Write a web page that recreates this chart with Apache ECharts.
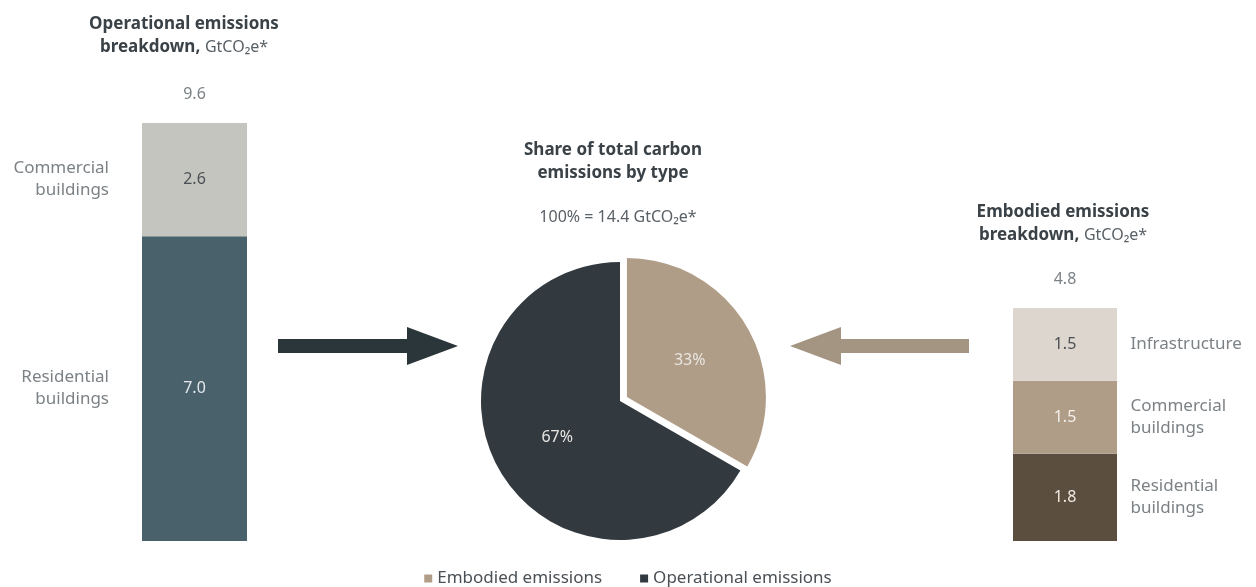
<!DOCTYPE html>
<html>
<head>
<meta charset="utf-8">
<script src="https://cdn.jsdelivr.net/npm/echarts@6/dist/echarts.min.js"></script>
<style>
html,body{margin:0;padding:0;background:#fff;}
#chart{width:1256px;height:587px;}
</style>
</head>
<body>
<div id="chart"></div>
<script>
// ---- Data ----
const opCategories = ['Residential\nbuildings', 'Commercial\nbuildings'];
const opValues = [7.0, 2.6];
const emCategories = ['Residential\nbuildings', 'Commercial\nbuildings', 'Infrastructure'];
const emValues = [1.8, 1.5, 1.5];
const shareNames = ['Embodied emissions', 'Operational emissions'];
const shareValues = [4.8, 9.6];
const totalLabel = '14.4';

// ---- Styles ----
const FONT = '"Noto Sans", "Open Sans", sans-serif';
const opColors = ['#48616a', '#c5c5bf'];
const opLabelColors = ['#e4e8ea', '#4b5055'];
const emColors = ['#5c4e3e', '#b09d87', '#ddd6cf'];
const emLabelColors = ['#efe9e2', '#f4efe9', '#4b5055'];
const shareColors = ['#b09d87', '#32393f'];
const textCol = '#5a6166';
const titleCol = '#3a4247';
const LBL = 17;

function sum(a){return a.reduce((s,v)=>s+v,0);}
function mids(a){let c=0;return a.map(v=>{const m=c+v/2;c+=v;return m;});}

const opTotal = sum(opValues), emTotal = sum(emValues);

const series = [];
opValues.forEach((v,i)=>{
  series.push({
    type:'bar', xAxisIndex:0, yAxisIndex:0, stack:'op', barWidth:'100%',
    data:[v], itemStyle:{color:opColors[i]}, silent:true,
    label:{show:true, position:'inside', color:opLabelColors[i], fontFamily:FONT, fontSize:16,
      formatter:p=>p.value.toFixed(1)}
  });
});
emValues.forEach((v,i)=>{
  series.push({
    type:'bar', xAxisIndex:1, yAxisIndex:1, stack:'em', barWidth:'100%',
    data:[v], itemStyle:{color:emColors[i]}, silent:true,
    label:{show:true, position:'inside', color:emLabelColors[i], fontFamily:FONT, fontSize:16,
      formatter:p=>p.value.toFixed(1)}
  });
});
// category name labels (left of operational bar)
series.push({
  type:'scatter', xAxisIndex:0, yAxisIndex:0, symbolSize:1, silent:true,
  itemStyle:{color:'transparent'},
  data: mids(opValues).map((m,i)=>({value:[0,m], name:opCategories[i]})),
  label:{show:true, position:'left', distance:85, formatter:p=>p.name, color:textCol,
    fontFamily:FONT, fontSize:LBL, lineHeight:22, align:'right'}
});
// totals
series.push({
  type:'scatter', xAxisIndex:0, yAxisIndex:0, symbolSize:1, silent:true,
  itemStyle:{color:'transparent'},
  data:[[0,opTotal]],
  label:{show:true, position:'top', distance:20, formatter:()=>opTotal.toFixed(1), color:textCol,
    fontFamily:FONT, fontSize:16}
});
series.push({
  type:'scatter', xAxisIndex:1, yAxisIndex:1, symbolSize:1, silent:true,
  itemStyle:{color:'transparent'},
  data: mids(emValues).map((m,i)=>({value:[0,m], name:emCategories[i]})),
  label:{show:true, position:'right', distance:65, formatter:p=>p.name, color:textCol,
    fontFamily:FONT, fontSize:LBL, lineHeight:22, align:'left'}
});
series.push({
  type:'scatter', xAxisIndex:1, yAxisIndex:1, symbolSize:1, silent:true,
  itemStyle:{color:'transparent'},
  data:[[0,emTotal]],
  label:{show:true, position:'top', distance:20, formatter:()=>emTotal.toFixed(1), color:textCol,
    fontFamily:FONT, fontSize:16}
});
// pie
series.push({
  type:'pie', center:[620,401], radius:139, startAngle:90, clockwise:true,
  selectedMode:'single', selectedOffset:8, silent:true,
  data: shareNames.map((n,i)=>({name:n, value:shareValues[i], selected:i===0,
    itemStyle:{color:shareColors[i]}})),
  label:{show:true, position:'inside', color:'#e8e6e2', fontFamily:FONT, fontSize:16,
    formatter:p=>Math.round(p.percent)+'%'},
  labelLine:{show:false},
  emphasis:{disabled:true}
});

const titleRich = {
  b:{fontFamily:FONT, fontSize:17, fontWeight:'bold', color:titleCol, lineHeight:23},
  n:{fontFamily:FONT, fontSize:16, fontWeight:'normal', color:'#5a6166', lineHeight:23}
};

const option = {
  animation:false,
  textStyle:{fontFamily:FONT},
  title:[
    {text:'{b|Operational emissions}\n{b|breakdown,} {n|GtCO₂e*}', left:179, top:8, textAlign:'center',
      textStyle:{rich:titleRich}},
    {text:'{b|Share of total carbon}\n{b|emissions by type}', left:608, top:134, textAlign:'center',
      textStyle:{rich:titleRich}},
    {text:'{n|100% = ' + totalLabel + ' GtCO₂e*}', left:613, top:201, textAlign:'center',
      textStyle:{rich:titleRich}},
    {text:'{b|Embodied emissions}\n{b|breakdown,} {n|GtCO₂e*}', left:1058, top:196, textAlign:'center',
      textStyle:{rich:titleRich}}
  ],
  legend:{
    data:shareNames, bottom:-5, left:'center', icon:'rect', itemWidth:8, itemHeight:8, itemGap:38,
    textStyle:{fontFamily:FONT, fontSize:LBL, color:'#4a5055'}, selectedMode:false
  },
  grid:[
    {left:142, width:105, top:123, bottom:46},
    {left:1013, width:104, top:308, bottom:46}
  ],
  xAxis:[
    {type:'category', gridIndex:0, data:['op'], show:false},
    {type:'category', gridIndex:1, data:['em'], show:false}
  ],
  yAxis:[
    {type:'value', gridIndex:0, min:0, max:opTotal, show:false},
    {type:'value', gridIndex:1, min:0, max:emTotal, show:false}
  ],
  graphic:[
    {type:'polygon', silent:true, shape:{points:[[278,339],[407,339],[407,327],[458,346],[407,365],[407,353],[278,353]]},
      style:{fill:'#2b363b'}},
    {type:'polygon', silent:true, shape:{points:[[969,339],[841,339],[841,327],[790,346],[841,365],[841,353],[969,353]]},
      style:{fill:'#a39582'}}
  ],
  series:series
};

const chart = echarts.init(document.getElementById('chart'), null, {renderer:'canvas'});
chart.setOption(option);
</script>
</body>
</html>
